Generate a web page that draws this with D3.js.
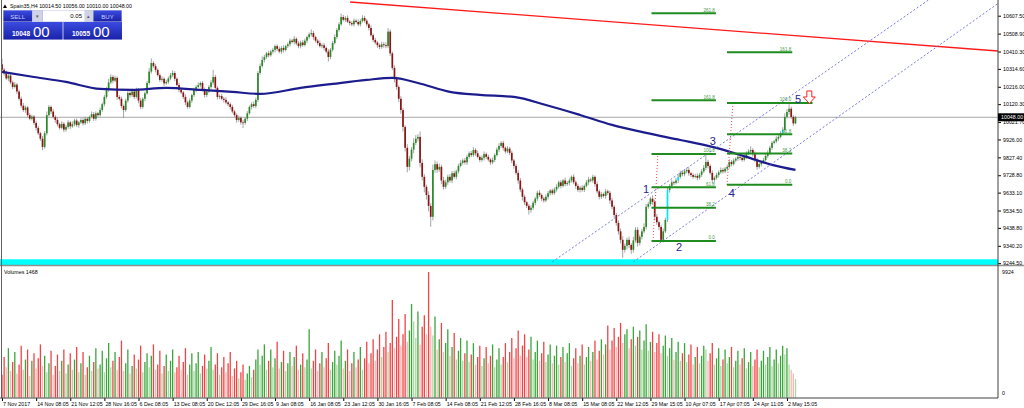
<!DOCTYPE html>
<html><head><meta charset="utf-8">
<script src="https://cdn.jsdelivr.net/npm/d3@7"></script>
<style>body{margin:0;background:#fff}svg{display:block}text{font-family:"Liberation Sans",Arial,sans-serif}</style>
</head><body><svg id="c" width="1024" height="408"></svg>
<script>
// ---------- DATA ----------
const symbolTitle = "Spain35,H4";
const lastOHLC = [10014.50, 10056.00, 10010.00, 10048.00];
const sellPrice = ["10048", "00"];
const buyPrice = ["10055", "00"];
const lotSize = "0.05";
const firstOpen = 10340;
const closes = [
10310,10290,10262,10278,10240,10215,10228,10190,10150,10112,
10088,10102,10060,10040,10052,10017,9990,9960,9930,9885,
9960,10060,10105,10080,10050,10033,10010,9990,10012,9980,
9995,10020,9998,10010,10030,10005,10020,10033,10015,10040,
10028,10050,10065,10040,10070,10060,10088,10120,10160,10200,
10240,10270,10250,10265,10160,10150,10110,10088,10140,10182,
10170,10190,10160,10199,10140,10105,10150,10180,10237,10300,
10347,10330,10309,10280,10254,10260,10235,10243,10262,10280,
10292,10260,10226,10200,10185,10160,10130,10105,10140,10170,
10199,10215,10225,10237,10200,10171,10190,10215,10240,10270,
10210,10160,10165,10150,10144,10130,10120,10105,10080,10060,
10033,10045,10020,10017,10040,10070,10105,10120,10110,10144,
10292,10330,10364,10380,10400,10390,10410,10419,10440,10425,
10410,10430,10419,10440,10450,10470,10463,10480,10455,10440,
10460,10446,10470,10490,10505,10512,10490,10470,10457,10440,
10445,10430,10410,10380,10420,10457,10490,10529,10560,10600,
10585,10595,10575,10567,10560,10580,10573,10560,10578,10595,
10580,10560,10540,10500,10474,10460,10445,10435,10450,10445,
10440,10520,10400,10320,10260,10215,10150,10088,9995,9880,
9775,9820,9870,9907,9930,9940,9797,9720,9665,9620,
9560,9500,9758,9790,9760,9775,9700,9665,9690,9720,
9700,9740,9720,9750,9780,9797,9810,9800,9830,9850,
9840,9868,9850,9830,9813,9825,9845,9830,9815,9800,
9813,9840,9870,9890,9907,9880,9860,9875,9852,9810,
9780,9742,9700,9650,9610,9580,9560,9538,9550,9577,
9600,9632,9620,9600,9590,9610,9630,9645,9630,9650,
9665,9690,9670,9700,9680,9687,9700,9720,9690,9670,
9648,9660,9648,9670,9690,9705,9700,9720,9680,9640,
9610,9625,9615,9640,9632,9590,9555,9510,9466,9420,
9373,9318,9340,9373,9345,9318,9370,9428,9356,9390,
9420,9444,9555,9570,9600,9582,9500,9470,9444,9373,
9420,9483,9648,9670,9690,9687,9700,9720,9742,9735,
9750,9758,9740,9730,9720,9725,9715,9731,9750,9770,
9802,9780,9742,9703,9715,9730,9745,9758,9750,9765,
9775,9802,9790,9810,9820,9830,9825,9813,9830,9850,
9860,9868,9845,9813,9775,9790,9800,9813,9835,9852,
9880,9907,9915,9930,9940,9960,9978,10050,10077,10095,
10050,10014.5,10048];
const upWick = [
30,10,15,8,12,10,14,8,10,12, 15,10,8,12,10,8,12,10,8,15,
12,20,10,8,15,10,12,8,14,10, 10,12,8,15,10,12,8,10,14,12,
10,8,15,12,10,8,14,10,12,15, 20,15,10,12,8,10,12,8,10,12,
10,15,8,12,10,14,8,10,12,20, 25,10,12,8,10,14,8,12,10,12,
15,10,8,12,10,8,14,10,12,8, 12,10,15,8,10,12,14,10,12,40,
12,10,8,12,10,14,8,10,12,8, 10,12,8,14,10,12,8,10,15,12,
10,15,20,12,8,14,10,12,8,10, 12,10,14,8,10,12,10,15,8,12,
10,14,12,8,10,20,12,8,10,14, 10,12,8,14,10,12,15,10,12,20,
12,10,14,8,10,12,8,14,10,15, 12,10,8,14,10,12,8,10,14,12,
15,20,12,10,14,12,10,15,12,10, 20,15,14,25,20,15,30,20,15,12,
20,15,30,20,15,18,12,20,15,12, 15,12,14,10,12,15,10,14,12,10,
12,15,10,14,8,12,15,10,12,8, 14,10,12,15,10,12,8,14,10,12,
10,12,15,14,10,12,8,10,14,12, 10,12,15,8,10,14,12,8,10,12,
14,10,12,8,15,10,12,8,14,10, 12,10,14,8,12,15,10,12,8,14,
10,12,8,14,10,12,15,10,12,14, 15,20,14,12,18,10,20,14,15,12,
14,20,15,12,10,18,12,15,10,12, 15,12,14,10,12,8,14,10,12,15,
10,12,14,8,10,12,14,10,12,15, 50,12,10,14,8,12,10,14,12,10,
12,14,10,12,8,14,10,12,15,10, 12,20,10,14,12,10,8,12,10,14,
12,10,8,14,10,12,15,20,15,25, 12,10,8];
const downWick = [
10,12,8,15,10,12,8,14,10,12, 10,15,12,8,10,12,15,10,12,18,
10,12,8,14,10,15,12,10,8,14, 12,10,14,8,12,10,15,8,12,10,
14,10,8,12,10,14,8,10,12,10, 12,10,14,8,15,10,12,44,10,12,
14,10,12,8,15,12,10,14,8,10, 12,10,14,8,12,10,15,8,12,10,
10,12,8,14,10,12,15,10,8,12, 10,14,8,12,10,15,12,8,10,12,
10,14,12,8,15,10,12,14,10,12, 15,10,12,28,10,12,8,14,10,12,
12,10,8,14,10,12,8,10,14,12, 10,12,14,8,10,12,8,14,10,12,
12,10,8,14,10,12,15,10,12,8, 12,14,10,25,12,10,8,12,10,8,
10,12,8,14,10,12,8,10,12,8, 10,12,14,8,12,10,15,12,10,14,
12,10,15,12,20,15,18,20,25,20, 30,20,15,20,12,15,25,20,30,25,
30,55,20,15,18,12,20,15,12,14, 12,15,10,14,12,8,10,12,14,10,
12,10,14,8,12,10,15,12,10,14, 10,12,8,14,10,15,12,10,12,14,
15,12,18,14,20,15,12,25,15,12, 14,12,10,15,12,10,14,12,10,8,
12,10,14,8,12,10,14,12,10,15, 12,14,10,12,8,14,10,12,15,12,
14,12,10,15,12,18,14,20,15,18, 20,44,15,20,18,22,15,12,20,14,
15,12,14,10,12,15,20,14,18,12, 14,10,12,15,10,12,8,14,10,12,
12,10,14,12,10,8,14,10,12,10, 12,14,10,20,12,10,14,8,12,10,
14,10,12,8,10,12,14,10,8,12, 10,12,14,12,17,10,12,8,10,12,
10,12,8,10,12,8,10,12,10,14, 12,14,5];
const volumes = [
1800,3200,2400,3900,2100,2800,3600,1900,2600,4100, 2200,3000,3800,1700,2900,3500,2300,3100,4200,2500,
3300,2000,2700,3700,1800,2500,3400,2100,2900,3800, 1900,2600,3500,2200,3000,4000,2000,2700,3600,1800,
2400,3300,2100,2800,3900,2300,2600,3700,2000,3100, 4300,2400,2900,3600,2200,3200,4500,2100,2700,3800,
1900,2500,3400,2300,3000,4100,2000,2800,3500,2400, 3300,4200,2200,2600,3700,1900,2500,3400,2100,2900,
3800,2000,2400,3300,2200,2800,3900,1800,2600,3500, 2100,2700,3600,1900,2500,3400,2300,2900,4000,2200,
2600,3500,1800,2400,3200,2000,2700,3600,1700,2300, 2900,1500,2000,2600,1400,1900,2500,1600,2200,3000,
3800,2600,3300,4200,2200,2900,3800,2400,3100,4400, 2300,2800,3700,2100,2700,3600,2500,3200,4100,2200,
2600,3500,2400,3000,5400,2300,2900,3800,2100,2700, 3600,2400,3100,4300,2200,2800,3700,2600,3300,4500,
2300,2900,3800,2100,2700,3600,2400,3000,4000,2200, 3100,4400,2700,3500,4600,2900,3800,5000,3200,4000,
5200,3600,4300,7700,3900,4800,6200,4100,5000,6600, 4400,5300,7400,6000,4700,6800,4200,5600,6500,5000,
9924,5600,4900,6400,3800,4600,5900,3600,4300,5400, 3300,4000,5100,3000,3700,4700,2900,3500,4500,2800,
3400,4300,2600,3200,4100,2500,3100,4000,2700,3300, 4200,2400,3000,3900,2600,3200,4300,2800,3600,4700,
3100,3900,5300,3300,4100,5000,3200,3800,4800,3000, 3600,4500,2900,3500,4400,2800,3400,4200,2700,3300,
4100,2600,3200,4000,2800,3500,4300,2500,3100,3900, 2700,3300,4200,2600,3200,4000,2900,3600,4500,3000,
3700,4600,3400,4200,5700,3800,4500,5500,4000,4800, 5900,4300,5000,5400,3900,4600,5600,4100,4800,5300,
3800,4500,5800,3700,4400,5200,3600,4300,5000,3500, 4100,4900,3300,3900,4700,3000,3600,4400,2900,3500,
4300,2800,3400,4200,2600,3200,4000,2700,3300,4100, 3800,2900,3500,4300,2600,3100,3900,2500,3000,3800,
2700,3200,4000,2400,2900,3700,2600,3100,3900,2300, 2800,3600,2500,3000,3800,2400,2900,3700,2600,3200,
4000,2500,3000,3800,2700,3300,4100,3400,3900,2600, 2200,1900,1468];
const highlightBars = [312, 317, 366];
const maIndex = [0,15,30,46,61,77,93,108,121,140,155,171,183,195,210,224,240,255,271,286,302,318,333,349,361,372];
const maValues = [10298,10270,10243,10204,10199,10210,10199,10188,10177,10210,10232,10254,10265,10237,10188,10171,10160,10116,10061,10006,9962,9923,9885,9830,9786,9758];
const timeTickIndex = [0,16,32,48,64,80,96,112,128,144,160,176,192,208,224,240,256,272,288,304,320,336,352,368];
const timeLabels = ["7 Nov 2017","14 Nov 08:05","21 Nov 12:05","28 Nov 16:05","6 Dec 08:05","13 Dec 08:05","20 Dec 12:05","29 Dec 16:05","9 Jan 08:05","16 Jan 08:05","23 Jan 12:05","30 Jan 16:05","7 Feb 08:05","14 Feb 08:05","21 Feb 12:05","28 Feb 16:05","8 Mar 08:05","15 Mar 08:05","22 Mar 12:05","29 Mar 15:05","10 Apr 07:05","17 Apr 07:05","24 Apr 11:05","2 May 15:05"];
const priceTicks = [10607.50,10508.90,10410.30,10314.60,10216.00,10120.30,10021.70,9926.00,9827.40,9728.80,9633.10,9534.50,9438.80,9340.20,9244.50];
const volumeMax = 9924;
const volumeLast = 1468;
const supportLevel = 9250;
const bidPrice = 10048.00;
const fibRatios = [0, 38.2, 61.8, 100, 161.8, 261.8];
const fibRatioLabels = ["0.0","38.2","61.8","100.0","161.8","261.8"];
const fibAPrices = [9367, 9846];
const fibASpan = [304.5, 334.7];
const fibALevels = [0,1,2,3,4,5];
const fibAConnector = [[305.2, 9367],[307.5, 9846]];
const fibBPrices = [9676, 10127];
const fibBSpan = [339.9, 370.5];
const fibBLevels = [0,1,2,3,4];
const fibBExtendTo = 380;
const fibBConnector = [[339.9, 9676],[342.7, 10127]];
const channelUpper = [[258, 9252],[445, 10781]];
const channelLower = [[296, 9252],[470, 10700]];
const redTrend = [[163.2, 10683],[467, 10413]];
const waveLabels = ["1","2","3","4","5"];
const waveIndex = [301.9, 317.4, 333.3, 342.2, 373.2];
const wavePrice = [9632, 9312, 9896, 9609, 10127];
const arrowAt = [378.5, 10193];

// ---------- SCALES ----------
const AX = 998;
const svg = d3.select('#c');
const x = d3.scaleLinear().domain([0, 372]).range([2, 2 + 372 * 2.133]);
const y = d3.scaleLinear().domain([9240, 10694]).range([264, 0]);
const yv = d3.scaleLinear().domain([0, volumeMax]).range([397.5, 272]);
const FS = 5.3;

const defs = svg.append('defs');
defs.append('clipPath').attr('id','pc').append('rect').attr('x',0).attr('y',0).attr('width',AX).attr('height',265);
const gr = defs.append('linearGradient').attr('id','bl').attr('x1',0).attr('x2',0).attr('y1',0).attr('y2',1);
gr.append('stop').attr('offset','0%').attr('stop-color','#3b4be0');
gr.append('stop').attr('offset','100%').attr('stop-color','#1a22a8');

const P = svg.append('g').attr('clip-path','url(#pc)');

// support band
P.append('line').attr('x1',0).attr('x2',AX).attr('y1',y(supportLevel)).attr('y2',y(supportLevel))
  .attr('stroke','#00ffff').attr('stroke-width',6);
// bid line
P.append('line').attr('x1',0).attr('x2',AX).attr('y1',y(bidPrice)).attr('y2',y(bidPrice))
  .attr('stroke','#a8a8a8').attr('stroke-width',1);

// candles
const bars = closes.map((c,i)=>{
  const o = i===0 ? firstOpen : closes[i-1];
  return {i, o, c, h: Math.max(o,c)+upWick[i], l: Math.min(o,c)-downWick[i], v: volumes[i]};
});
const cg = P.append('g');
cg.selectAll('line').data(bars).join('line')
  .attr('x1',d=>x(d.i)).attr('x2',d=>x(d.i)).attr('y1',d=>y(d.h)).attr('y2',d=>y(d.l))
  .attr('stroke','#9a9a9a').attr('stroke-width',0.9);
cg.selectAll('rect').data(bars).join('rect')
  .attr('x',d=>x(d.i)-0.85).attr('width',1.7)
  .attr('y',d=>y(Math.max(d.o,d.c))).attr('height',d=>Math.max(0.8, Math.abs(y(d.o)-y(d.c))))
  .attr('fill',d=> highlightBars.includes(d.i) ? '#00e5ff' : (d.c>=d.o ? '#2a8a2a' : '#8c1414'));

// MA
P.append('path').datum(maIndex.map((k,j)=>[k,maValues[j]]))
  .attr('d', d3.line().x(d=>x(d[0])).y(d=>y(d[1])).curve(d3.curveMonotoneX))
  .attr('fill','none').attr('stroke','#1c1c8e').attr('stroke-width',2.2);

// red trend
P.append('line').attr('x1',x(redTrend[0][0])).attr('y1',y(redTrend[0][1])).attr('x2',x(redTrend[1][0])).attr('y2',y(redTrend[1][1]))
  .attr('stroke','#ff1a1a').attr('stroke-width',1.3);

// channel
[channelUpper, channelLower].forEach(ch=>{
  P.append('line').attr('x1',x(ch[0][0])).attr('y1',y(ch[0][1])).attr('x2',x(ch[1][0])).attr('y2',y(ch[1][1]))
   .attr('stroke','#6a6ae0').attr('stroke-width',0.9).attr('stroke-dasharray','2,2');
});

// fib connectors
[fibAConnector, fibBConnector].forEach(cn=>{
  P.append('line').attr('x1',x(cn[0][0])).attr('y1',y(cn[0][1])).attr('x2',x(cn[1][0])).attr('y2',y(cn[1][1]))
   .attr('stroke','#ff3030').attr('stroke-width',0.9).attr('stroke-dasharray','1,2');
});

// fib levels
function drawFib(prices, span, levels, ext){
  levels.forEach(k=>{
    const p = prices[0] + fibRatios[k]/100*(prices[1]-prices[0]);
    const xe = (ext && fibRatios[k]===100) ? x(ext) : x(span[1]);
    P.append('line').attr('x1',x(span[0])).attr('x2',xe).attr('y1',y(p)).attr('y2',y(p))
      .attr('stroke','#1f8c1f').attr('stroke-width',2);
    P.append('text').attr('x',x(span[1])-1).attr('y',y(p)-1.6).attr('text-anchor','end')
      .attr('font-size',4.6).attr('fill','#4a9a4a').text(fibRatioLabels[k]);
  });
}
drawFib(fibAPrices, fibASpan, fibALevels, null);
drawFib(fibBPrices, fibBSpan, fibBLevels, fibBExtendTo);

// wave labels
waveLabels.forEach((t,j)=>{
  P.append('text').attr('x',x(waveIndex[j])).attr('y',y(wavePrice[j])).attr('text-anchor','middle')
   .attr('font-size',11).attr('fill','#24248c').text(t);
});
// arrow
{
  const ax = x(arrowAt[0]), ay = y(arrowAt[1]);
  P.append('path').attr('d',`M${ax-2.5},${ay} h5 v6 h3.5 l-6,6.5 l-6,-6.5 h3.5 z`)
   .attr('fill','#fff').attr('stroke','#ff2020').attr('stroke-width',1);
}

// panel separator
svg.append('line').attr('x1',0).attr('x2',1024).attr('y1',265.5).attr('y2',265.5).attr('stroke','#909090').attr('stroke-width',1.5);

// volumes
const vc = bars.map((d,i)=>{
  const up = d.c>=d.o; const lower = i>0 && d.v < volumes[i-1];
  return up ? (lower ? '#a9d9a0' : '#3aa63a') : (lower ? '#ffb4b4' : '#f04444');
});
svg.append('g').selectAll('line').data(bars).join('line')
  .attr('x1',d=>x(d.i)).attr('x2',d=>x(d.i)).attr('y1',yv(0)).attr('y2',d=>yv(d.v))
  .attr('stroke',(d,i)=>vc[i]).attr('stroke-width',1.3);
svg.append('text').attr('x',4).attr('y',274).attr('font-size',FS).text('Volumes ' + volumeLast);
svg.append('text').attr('x',1002).attr('y',274).attr('font-size',FS).text(volumeMax);
svg.append('text').attr('x',1002).attr('y',395).attr('font-size',FS).text('0');

// left border
svg.append('line').attr('x1',1.5).attr('x2',1.5).attr('y1',0).attr('y2',398).attr('stroke','#606060').attr('stroke-width',1);

// right axis
const ra = svg.append('g').attr('transform',`translate(${AX},0)`)
  .call(d3.axisRight(y).tickValues(priceTicks).tickFormat(d=>d.toFixed(2)).tickSize(3).tickPadding(2));
ra.select('.domain').remove();
ra.selectAll('text').attr('font-size',FS).attr('font-family','"Liberation Sans",Arial,sans-serif').attr('fill','#000');
ra.selectAll('line').attr('stroke','#000');
svg.append('line').attr('x1',AX).attr('x2',AX).attr('y1',0).attr('y2',398).attr('stroke','#404040');
// bid box
svg.append('rect').attr('x',AX).attr('y',y(bidPrice)-4).attr('width',1024-AX).attr('height',8).attr('fill','#000');
svg.append('text').attr('x',AX+3).attr('y',y(bidPrice)+2).attr('font-size',FS).attr('fill','#fff').text(bidPrice.toFixed(2));

// bottom axis
const ba = svg.append('g').attr('transform','translate(0,398)')
  .call(d3.axisBottom(x).tickValues(timeTickIndex).tickFormat((d,k)=>timeLabels[k]).tickSize(3).tickPadding(1));
ba.select('.domain').remove();
ba.selectAll('text').attr('font-size',FS).attr('font-family','"Liberation Sans",Arial,sans-serif').attr('text-anchor','start').attr('fill','#000').attr('dx',0.5);
ba.selectAll('line').attr('stroke','#000');
svg.append('line').attr('x1',0).attr('x2',AX).attr('y1',398).attr('y2',398).attr('stroke','#404040');

// header
svg.append('path').attr('d','M3,8 L5,4.5 L7,8 z').attr('fill','#000');
svg.append('text').attr('x',10).attr('y',8.3).attr('font-size',FS)
  .text(symbolTitle + '  ' + lastOHLC.map(v=>v.toFixed(2)).join(' '));

// one-click panel
const T = svg.append('g');
T.append('rect').attr('x',3).attr('y',10).attr('width',119).attr('height',29.5).attr('fill','#c0c4e8');
T.append('rect').attr('x',3.5).attr('y',10.5).attr('width',28.5).attr('height',11).attr('fill','url(#bl)');
T.append('rect').attr('x',93.5).attr('y',10.5).attr('width',28).attr('height',11).attr('fill','url(#bl)');
T.append('rect').attr('x',33).attr('y',10.5).attr('width',9).attr('height',11).attr('fill','#d0d2e6');
T.append('rect').attr('x',84.5).attr('y',10.5).attr('width',8.5).attr('height',11).attr('fill','#d0d2e6');
T.append('rect').attr('x',43).attr('y',10.5).attr('width',41.5).attr('height',11).attr('fill','#fff');
T.append('text').attr('x',37.5).attr('y',17.5).attr('font-size',5).attr('text-anchor','middle').attr('fill','#555').text('▾');
T.append('text').attr('x',88.7).attr('y',17.5).attr('font-size',5).attr('text-anchor','middle').attr('fill','#555').text('▴');
T.append('text').attr('x',82).attr('y',18.3).attr('font-size',6).attr('text-anchor','end').attr('fill','#000').text(lotSize);
T.append('text').attr('x',17.7).attr('y',18.5).attr('font-size',6).attr('text-anchor','middle').attr('fill','#c8d2ff').text('SELL');
T.append('text').attr('x',107.5).attr('y',18.5).attr('font-size',6).attr('text-anchor','middle').attr('fill','#c8d2ff').text('BUY');
T.append('rect').attr('x',3.5).attr('y',22).attr('width',59).attr('height',17.5).attr('fill','url(#bl)');
T.append('rect').attr('x',63.5).attr('y',22).attr('width',58.5).attr('height',17.5).attr('fill','url(#bl)');
T.append('text').attr('x',12).attr('y',36).attr('font-size',6.5).attr('font-weight','bold').attr('fill','#fff').text(sellPrice[0]);
T.append('text').attr('x',33).attr('y',37).attr('font-size',15).attr('fill','#fff').text(sellPrice[1]);
T.append('text').attr('x',72).attr('y',36).attr('font-size',6.5).attr('font-weight','bold').attr('fill','#fff').text(buyPrice[0]);
T.append('text').attr('x',93).attr('y',37).attr('font-size',15).attr('fill','#fff').text(buyPrice[1]);
</script></body></html>
